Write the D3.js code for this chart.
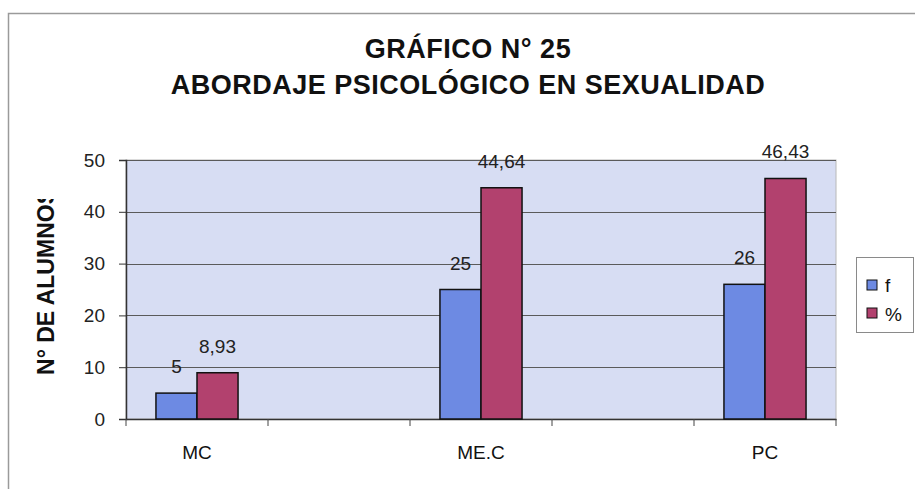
<!DOCTYPE html>
<html>
<head>
<meta charset="utf-8">
<script src="https://cdn.jsdelivr.net/npm/d3@7"></script>
<style>
  body { margin: 0; background: #fff; }
  svg { display: block; font-family: "Liberation Sans", Arial, sans-serif; }
</style>
</head>
<body>
<svg width="915" height="489"></svg>
<script>
// chart data (blank categories keep Excel's spacing)
const categories = ["MC", "", "ME.C", "", "PC"];
const seriesNames = ["f", "%"];
const valuesF = [5, null, 25, null, 26];
const valuesPct = [8.93, null, 44.64, null, 46.43];
const labelsF = ["5", "", "25", "", "26"];
const labelsPct = ["8,93", "", "44,64", "", "46,43"];
const yTicks = [0, 10, 20, 30, 40, 50];
const colors = ["#6d8ae3", "#b2416e"];

const plot = { left: 126, top: 160, right: 836, bottom: 419 };
const svg = d3.select("svg");

// outer chart frame
svg.append("path")
   .attr("d", "M8.5,489 V13.5 H915")
   .attr("fill", "none")
   .attr("stroke", "#9a9a9a")
   .attr("stroke-width", 1.5);

// title
const title = svg.append("text")
                 .attr("text-anchor", "middle")
                 .attr("font-weight", "bold")
                 .attr("font-size", 27)
                 .attr("letter-spacing", 0.5)
                 .attr("fill", "#111");
title.append("tspan").attr("x", 468).attr("y", 58).text("GRÁFICO N° 25");
title.append("tspan").attr("x", 468).attr("y", 94).text("ABORDAJE PSICOLÓGICO EN SEXUALIDAD");

const x0 = d3.scaleBand()
             .domain(categories.map((d, i) => i))
             .range([plot.left, plot.right])
             .paddingInner(0)
             .paddingOuter(0);

const x1 = d3.scaleBand()
             .domain(seriesNames)
             .range([0, x0.bandwidth()])
             .paddingInner(0)
             .paddingOuter(0.73);

const y = d3.scaleLinear()
            .domain([0, 50])
            .range([plot.bottom, plot.top]);

// plot background
svg.append("rect")
   .attr("x", plot.left)
   .attr("y", plot.top)
   .attr("width", plot.right - plot.left)
   .attr("height", plot.bottom - plot.top)
   .attr("fill", "#d7ddf3")
   .attr("stroke", "#b8b8b8");

// gridlines
svg.append("g")
   .selectAll("line")
   .data(yTicks.filter(t => t > 0))
   .enter()
   .append("line")
   .attr("x1", plot.left)
   .attr("x2", plot.right)
   .attr("y1", d => Math.round(y(d)) + 0.5)
   .attr("y2", d => Math.round(y(d)) + 0.5)
   .attr("stroke", "#5a5a5a")
   .attr("stroke-width", 1);

// y axis
const yAxis = svg.append("g")
                 .attr("transform", `translate(${plot.left},0)`)
                 .call(d3.axisLeft(y).tickValues(yTicks).tickSize(7).tickPadding(14));
yAxis.select(".domain").attr("stroke", "#333").attr("stroke-width", 1.5);
yAxis.selectAll(".tick line").attr("stroke", "#333");
yAxis.selectAll("text")
     .attr("font-size", 19)
     .attr("fill", "#222")
     .attr("font-family", "Liberation Sans, Arial, sans-serif");

// x axis: labels at centres, ticks between categories
const xAxis = svg.append("g")
                 .attr("transform", `translate(0,${plot.bottom})`)
                 .call(d3.axisBottom(x0).tickSize(0).tickPadding(27).tickFormat(i => categories[i]));
xAxis.select(".domain").attr("stroke", "#333").attr("stroke-width", 1.5);
xAxis.selectAll("text")
     .attr("font-size", 19)
     .attr("fill", "#111")
     .attr("font-family", "Liberation Sans, Arial, sans-serif");

xAxis.selectAll(".sep")
     .data(categories.map((d, i) => x0(i)).concat([x0(categories.length - 1) + x0.bandwidth()]))
     .enter()
     .append("line")
     .attr("class", "sep")
     .attr("x1", d => d)
     .attr("x2", d => d)
     .attr("y1", 0)
     .attr("y2", 7)
     .attr("stroke", "#444");

// bars
const rows = categories.map((c, i) => ({ i: i, vals: [valuesF[i], valuesPct[i]], labels: [labelsF[i], labelsPct[i]] }));

const groups = svg.append("g")
                  .selectAll("g")
                  .data(rows.filter(r => r.vals[0] !== null))
                  .enter()
                  .append("g")
                  .attr("transform", d => `translate(${x0(d.i)},0)`);

groups.selectAll("rect")
      .data(d => d.vals.map((v, k) => ({ key: seriesNames[k], v: v, k: k })))
      .enter()
      .append("rect")
      .attr("x", d => x1(d.key))
      .attr("y", d => y(d.v))
      .attr("width", x1.bandwidth())
      .attr("height", d => y(0) - y(d.v))
      .attr("fill", d => colors[d.k])
      .attr("stroke", "#111")
      .attr("stroke-width", 1.5);

groups.selectAll(".lbl")
      .data(d => d.vals.map((v, k) => ({ key: seriesNames[k], v: v, t: d.labels[k] })))
      .enter()
      .append("text")
      .attr("class", "lbl")
      .attr("x", d => x1(d.key) + x1.bandwidth() / 2)
      .attr("y", d => y(d.v) - 20)
      .attr("text-anchor", "middle")
      .attr("font-size", 19)
      .attr("fill", "#222")
      .text(d => d.t);

// y axis title (clipped like the original)
svg.append("clipPath")
   .attr("id", "yclip")
   .append("rect")
   .attr("x", 20).attr("y", 199).attr("width", 60).attr("height", 200);

svg.append("g")
   .attr("clip-path", "url(#yclip)")
   .append("text")
   .attr("transform", "translate(54,282) rotate(-90)")
   .attr("text-anchor", "middle")
   .attr("font-weight", "bold")
   .attr("font-size", 23)
   .attr("fill", "#111")
   .text("N° DE ALUMNOS");

// legend
const legend = svg.append("g").attr("transform", "translate(856,257)");
legend.append("rect")
      .attr("x", 0.5).attr("y", 0.5)
      .attr("width", 57).attr("height", 75)
      .attr("fill", "#fff")
      .attr("stroke", "#8a8a8a");

seriesNames.forEach((name, k) => {
  legend.append("rect")
        .attr("x", 11).attr("y", 23 + k * 28)
        .attr("width", 10).attr("height", 10)
        .attr("fill", colors[k])
        .attr("stroke", "#111");
  legend.append("text")
        .attr("x", 29).attr("y", 35 + k * 29)
        .attr("font-size", 19)
        .attr("fill", "#111")
        .text(name);
});
</script>
</body>
</html>
